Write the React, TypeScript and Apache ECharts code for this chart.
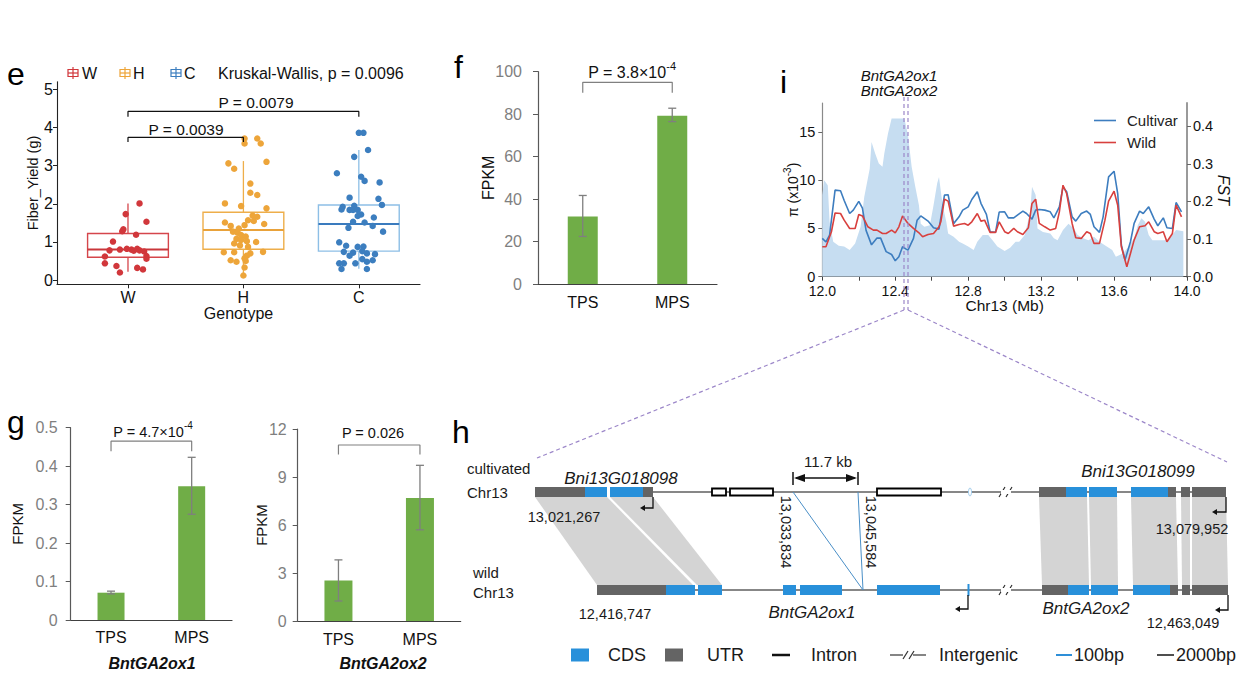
import React, { useEffect, useRef } from "react";
import * as echarts from "echarts";

const FONT = '"Liberation Sans", Arial, Helvetica, sans-serif';

// ---------------- panel e : fiber yield boxplot ----------------
const GENOTYPES = ["W", "H", "C"];
const GENO_COLORS = ["#D1373B", "#EDA53A", "#3C7EBF"];
const BOX_LINE_COLORS = ["#D5464B", "#EEAE4A", "#8DBFE6"];
const BOX_MEDIAN_COLORS = ["#C9363B", "#E9A23A", "#3A7BBE"];
// [x, lower whisker, Q1, median, Q3, upper whisker]
const BOX_STATS = [
  [1, 0.22, 0.6, 0.8, 1.22, 2.01],
  [2, 0.1, 0.81, 1.31, 1.78, 3.12],
  [3, 0.3, 0.76, 1.47, 1.97, 3.41],
];
const W_POINTS = [[1.10,2.01],[0.98,1.73],[1.16,1.53],[0.96,1.33],[0.95,1.28],[1.07,1.19],[0.87,1.01],[0.84,0.78],[0.93,0.80],[0.99,0.82],[1.03,0.80],[1.05,0.77],[1.08,0.82],[1.10,0.78],[1.14,0.75],[1.16,0.63],[1.16,0.56],[0.80,0.62],[0.80,0.44],[0.90,0.37],[1.08,0.32],[1.13,0.28],[0.93,0.20]];
const H_POINTS = [[2.01,3.71],[2.12,3.71],[2.01,3.58],[2.15,3.58],[2.20,3.10],[1.87,3.06],[1.92,2.92],[2.06,2.53],[2.06,2.29],[2.12,2.23],[1.84,2.01],[1.98,1.94],[2.20,1.88],[2.08,1.69],[2.12,1.66],[2.04,1.57],[2.09,1.55],[1.84,1.51],[2.18,1.47],[1.89,1.42],[2.01,1.44],[1.96,1.35],[1.91,1.27],[1.95,1.24],[1.98,1.18],[2.02,1.14],[1.94,1.08],[1.98,1.05],[2.03,1.02],[2.11,1.00],[1.92,0.96],[1.97,0.91],[2.04,0.87],[1.83,0.73],[1.92,0.73],[2.06,0.70],[2.17,0.74],[2.03,0.64],[2.01,0.57],[1.89,0.52],[1.94,0.48],[2.02,0.50],[2.01,0.33],[2.00,0.12]];
const C_POINTS = [[3.00,3.86],[3.04,3.86],[3.08,3.41],[2.96,3.23],[2.81,2.80],[3.02,2.71],[3.05,2.60],[3.18,2.56],[2.92,2.16],[3.17,2.13],[3.20,1.97],[2.86,1.92],[2.96,1.95],[2.85,1.85],[2.92,1.84],[2.95,1.84],[2.99,1.84],[3.02,1.72],[2.99,1.68],[3.13,1.64],[2.95,1.53],[3.05,1.51],[3.12,1.42],[2.91,1.37],[3.21,1.27],[2.83,0.99],[2.89,0.90],[2.99,0.87],[3.04,0.88],[2.87,0.74],[3.03,0.76],[2.95,0.72],[3.07,0.70],[3.14,0.68],[2.92,0.64],[3.03,0.55],[3.12,0.52],[3.07,0.48],[2.83,0.44],[2.87,0.44],[2.97,0.44],[2.85,0.29],[3.07,0.29]];
const E_BRACKET_WH = [[1,3.62],[1,3.74],[2,3.74],[2,3.62]];
const E_BRACKET_WC = [[1,4.28],[1,4.42],[3,4.42],[3,4.28]];
const E_Y_TICKS = [0, 1, 2, 3, 4, 5];

// ---------------- panels f, g : FPKM bars ----------------
const STAGES = ["TPS", "MPS"];
const F_FPKM = [31.8, 79.2];
const F_ERR = [[0, 22.4, 41.7], [1, 76.5, 82.8]];
const F_BRACKET = [[0, 90.1], [0, 95], [1, 95], [1, 90.1]];
const G1_FPKM = [0.071, 0.348];
const G1_ERR = [[0, 0.068, 0.075], [1, 0.275, 0.423]];
const G1_BRACKET = [[0, 0.439], [0, 0.465], [1, 0.465], [1, 0.439]];
const G2_FPKM = [2.53, 7.68];
const G2_ERR = [[0, 1.25, 3.82], [1, 5.7, 9.73]];
const G2_BRACKET = [[0, 10.4], [0, 11.0], [1, 11.0], [1, 10.4]];

// ---------------- panel i : diversity along Chr13 ----------------
const I_X_TICK_LABELS = ["12.0", "12.4", "12.8", "13.2", "13.6", "14.0"];
const PI_TICKS = [0, 5, 10, 15];
const FST_TICKS = [0, 0.1, 0.2, 0.3, 0.4];
const CULTIVAR_PI = [[12.00,3.97],[12.02,3.6],[12.04,4.3],[12.07,8.97],[12.10,8.9],[12.12,7.9],[12.15,6.55],[12.17,6.9],[12.20,7.8],[12.22,7.1],[12.24,4.8],[12.27,3.3],[12.30,4.0],[12.32,4.0],[12.35,2.6],[12.38,2.3],[12.40,1.65],[12.42,2.07],[12.44,3.1],[12.46,2.86],[12.47,2.76],[12.50,3.97],[12.52,5.86],[12.54,6.3],[12.58,5.76],[12.61,5.07],[12.64,4.93],[12.67,8.45],[12.69,8.5],[12.72,5.5],[12.75,6.2],[12.77,6.9],[12.80,7.24],[12.82,8.0],[12.85,8.8],[12.87,7.6],[12.90,6.45],[12.92,4.66],[12.95,4.6],[12.97,6.7],[13.00,6.72],[13.02,6.1],[13.05,6.1],[13.07,6.38],[13.10,6.8],[13.12,6.55],[13.15,5.97],[13.17,6.9],[13.19,6.97],[13.22,6.9],[13.25,6.72],[13.27,6.1],[13.30,7.24],[13.32,9.31],[13.34,8.8],[13.37,6.2],[13.39,5.76],[13.42,6.55],[13.45,6.8],[13.47,6.45],[13.49,5.17],[13.52,4.59],[13.54,6.2],[13.57,10.34],[13.60,10.93],[13.62,8.62],[13.64,3.28],[13.66,1.72],[13.69,3.62],[13.71,5.52],[13.74,6.8],[13.76,6.55],[13.79,7.24],[13.82,5.97],[13.84,5.28],[13.87,6.1],[13.89,5.07],[13.92,5.0],[13.94,7.69],[13.97,6.72]];
const WILD_PI = [[12.00,3.1],[12.02,3.1],[12.05,4.66],[12.07,6.6],[12.10,6.55],[12.12,5.86],[12.15,5.0],[12.18,5.0],[12.20,6.45],[12.22,6.3],[12.25,5.17],[12.28,4.83],[12.30,4.83],[12.33,4.48],[12.35,4.48],[12.38,4.83],[12.40,4.55],[12.42,5.17],[12.44,6.28],[12.47,5.52],[12.50,5.0],[12.53,4.55],[12.55,4.14],[12.58,4.38],[12.61,4.48],[12.64,5.17],[12.65,5.69],[12.67,8.03],[12.69,7.83],[12.72,5.24],[12.75,5.41],[12.78,5.52],[12.80,5.34],[12.82,5.69],[12.85,6.55],[12.87,5.76],[12.89,5.86],[12.92,4.59],[12.95,4.59],[12.97,5.69],[13.00,4.66],[13.02,4.48],[13.05,5.0],[13.07,4.66],[13.10,4.38],[13.13,5.07],[13.15,7.59],[13.17,8.03],[13.19,5.52],[13.22,5.17],[13.25,4.83],[13.28,5.0],[13.30,6.72],[13.32,9.48],[13.34,8.62],[13.37,5.52],[13.39,4.03],[13.42,3.97],[13.45,4.66],[13.47,4.48],[13.49,3.45],[13.52,3.45],[13.55,5.86],[13.57,7.83],[13.60,8.86],[13.62,7.41],[13.64,3.1],[13.67,1.03],[13.69,2.41],[13.71,3.79],[13.74,5.17],[13.77,5.28],[13.79,5.69],[13.82,4.66],[13.84,4.48],[13.87,4.66],[13.89,3.62],[13.92,4.48],[13.94,7.41],[13.97,6.2]];
const FST_VALUES = [[12.00,0.217],[12.01,0.256],[12.03,0.243],[12.04,0.146],[12.06,0.093],[12.09,0.082],[12.12,0.080],[12.15,0.071],[12.18,0.088],[12.21,0.133],[12.23,0.212],[12.26,0.287],[12.27,0.358],[12.29,0.327],[12.31,0.301],[12.33,0.292],[12.34,0.327],[12.36,0.380],[12.38,0.420],[12.45,0.420],[12.47,0.376],[12.49,0.292],[12.51,0.239],[12.53,0.190],[12.54,0.141],[12.56,0.133],[12.59,0.137],[12.61,0.190],[12.63,0.248],[12.64,0.265],[12.66,0.190],[12.68,0.146],[12.69,0.115],[12.72,0.106],[12.75,0.093],[12.77,0.088],[12.80,0.080],[12.83,0.071],[12.85,0.093],[12.88,0.111],[12.91,0.111],[12.94,0.093],[12.96,0.080],[13.00,0.068],[13.03,0.077],[13.06,0.093],[13.08,0.093],[13.11,0.111],[13.14,0.172],[13.15,0.239],[13.17,0.217],[13.18,0.128],[13.21,0.119],[13.25,0.115],[13.27,0.102],[13.29,0.097],[13.32,0.124],[13.35,0.141],[13.38,0.128],[13.40,0.111],[13.43,0.102],[13.46,0.097],[13.49,0.106],[13.52,0.093],[13.56,0.080],[13.59,0.071],[13.61,0.053],[13.65,0.062],[13.68,0.080],[13.71,0.102],[13.73,0.137],[13.75,0.155],[13.77,0.146],[13.79,0.111],[13.81,0.097],[13.85,0.097],[13.89,0.097],[13.92,0.111],[13.94,0.124],[13.98,0.121]];

// ---------------- panel h : gene-structure schematic (layout along tracks) ----------------
const H_CULT_BLOCKS = [["UTR",535,585],["CDS",585,607],["CDS",610,643],["UTR",643,653],["UTR",1039,1066],["CDS",1066,1087],["CDS",1089,1117],["CDS",1131,1168],["UTR",1168,1176],["UTR",1181,1190],["UTR",1192,1226]];
const H_CULT_DELETED = [[712,726],[730,773],[877,941]];
const H_WILD_BLOCKS = [["UTR",597,666],["CDS",666,695],["CDS",698,722],["CDS",783,796],["CDS",800,842],["CDS",877,940],["UTR",1042,1068],["CDS",1068,1089],["CDS",1091,1118],["CDS",1133,1170],["UTR",1170,1178],["UTR",1182,1190],["UTR",1192,1228]];
const H_SYNTENY = [[[535,607],[597,693]],[[610,653],[697,722]],[[1039,1087],[1042,1089]],[[1089,1117],[1091,1118]],[[1131,1176],[1133,1178]],[[1181,1190],[1182,1190]],[[1192,1226],[1192,1228]]];

const CDS_COLOR = "#2890DA";
const UTR_COLOR = "#646464";
const BAR_COLOR = "#70AD47";
const ERR_COLOR = "#7F7F7F";

function buildGraphic() {
  const el: any[] = [];
  const T = (x: number, y: number, text: string, o: any = {}, rotation = 0) =>
    el.push({
      type: "text", x, y, rotation, z: 20, silent: true,
      style: { text, fontFamily: FONT, fontSize: 15, fill: "#1a1a1a", align: "left", verticalAlign: "middle", ...o },
    });
  const L = (x1: number, y1: number, x2: number, y2: number, stroke = "#000", lineWidth = 1.2, extra: any = {}) =>
    el.push({ type: "line", z: 12, silent: true, shape: { x1, y1, x2, y2 }, style: { stroke, lineWidth, ...extra } });
  const sup = (fs: number) => ({
    b: { fontSize: fs, fontFamily: FONT, fill: "#111", lineHeight: fs + 4, verticalAlign: "bottom" },
    s: { fontSize: Math.round(fs * 0.66), fontFamily: FONT, fill: "#111", lineHeight: Math.round(fs * 0.66), verticalAlign: "top" },
  });

  // panel letters
  T(7, 74, "e", { fontSize: 32, fill: "#000" });
  T(454, 67, "f", { fontSize: 32, fill: "#000" });
  T(780, 82, "i", { fontSize: 32, fill: "#000" });
  T(7, 422, "g", { fontSize: 32, fill: "#000" });
  T(452, 432, "h", { fontSize: 32, fill: "#000" });

  // panel e legend
  const iconX = [68, 120, 171];
  const txtX = [82, 133, 184];
  GENOTYPES.forEach((g, i) => {
    const c = GENO_COLORS[i];
    el.push({ type: "rect", z: 12, silent: true, shape: { x: iconX[i], y: 69.5, width: 10, height: 7 }, style: { fill: "#fff", stroke: c, lineWidth: 1.2 } });
    L(iconX[i], 73, iconX[i] + 10, 73, c, 1.2);
    L(iconX[i] + 5, 67, iconX[i] + 5, 79, c, 1.2);
    T(txtX[i], 73, g, { fontSize: 16, fill: "#111" });
  });
  T(218, 73, "Kruskal-Wallis, p = 0.0096", { fontSize: 16, fill: "#111" });
  T(186, 129, "P = 0.0039", { fontSize: 15.5, align: "center", fill: "#111" });
  T(256, 102, "P = 0.0079", { fontSize: 15.5, align: "center", fill: "#111" });

  // panel f / g annotations
  T(632, 70, "{b|P = 3.8×10}{s|-4}", { align: "center", rich: sup(16) });
  T(153, 430, "{b|P = 4.7×10}{s|-4}", { align: "center", rich: sup(14.5) });
  T(373, 433, "P = 0.026", { fontSize: 14.5, align: "center", fill: "#111" });
  T(152, 663, "BntGA2ox1", { fontSize: 16, fontWeight: "bold", fontStyle: "italic", align: "center", fill: "#111" });
  T(383, 663, "BntGA2ox2", { fontSize: 16, fontWeight: "bold", fontStyle: "italic", align: "center", fill: "#111" });

  // panel i gene labels + dashed zoom lines
  T(899, 75, "BntGA2ox1", { fontSize: 15, fontStyle: "italic", align: "center", fill: "#111" });
  T(899, 90, "BntGA2ox2", { fontSize: 15, fontStyle: "italic", align: "center", fill: "#111" });
  const dash = { lineDash: [4, 3] };
  L(904, 97, 904, 310, "#9C87C9", 1.2, dash);
  L(908, 97, 908, 310, "#9C87C9", 1.2, dash);
  L(904, 310, 537, 458, "#9C87C9", 1.2, dash);
  L(908, 310, 1227, 462, "#9C87C9", 1.2, dash);

  // panel h
  const CY = 492, WY = 590, HB = 5;
  H_SYNTENY.forEach(([top, bot]) => {
    el.push({ type: "polygon", z: 5, silent: true, shape: { points: [[top[0], CY + HB], [top[1], CY + HB], [bot[1], WY - HB], [bot[0], WY - HB]] }, style: { fill: "#D4D4D4" } });
  });
  L(653, CY, 1226, CY, "#111", 1.1);
  L(597, WY, 1228, WY, "#111", 1.1);
  // intergenic breaks
  [CY, WY].forEach((y) => {
    el.push({ type: "rect", z: 13, silent: true, shape: { x: 1001, y: y - 2, width: 10, height: 4 }, style: { fill: "#fff" } });
    L(999, y + 5, 1005, y - 5, "#222", 1.1, {});
    L(1006, y + 5, 1012, y - 5, "#222", 1.1, {});
  });
  const block = (kind: string, x1: number, x2: number, y: number) =>
    el.push({ type: "rect", z: 14, silent: true, shape: { x: x1, y: y - HB, width: x2 - x1, height: 2 * HB }, style: { fill: kind === "CDS" ? CDS_COLOR : UTR_COLOR } });
  H_CULT_BLOCKS.forEach(([k, a, b]: any) => block(k, a, b, CY));
  H_WILD_BLOCKS.forEach(([k, a, b]: any) => block(k, a, b, WY));
  H_CULT_DELETED.forEach(([a, b]) =>
    el.push({ type: "rect", z: 14, silent: true, shape: { x: a, y: CY - 3.5, width: b - a, height: 7 }, style: { fill: "#fff", stroke: "#000", lineWidth: 1.8 } })
  );
  el.push({ type: "ellipse", z: 14, silent: true, shape: { cx: 970, cy: CY, rx: 1.5, ry: 4 }, style: { fill: "#fff", stroke: "#9CC9EA", lineWidth: 1 } });
  el.push({ type: "rect", z: 14, silent: true, shape: { x: 967.5, y: WY - 6, width: 2, height: 12 }, style: { fill: CDS_COLOR } });
  // TSS arrows
  const tss = (x: number, y0: number, y1: number, len: number) => {
    el.push({ type: "polyline", z: 14, silent: true, shape: { points: [[x, y0], [x, y1], [x - len, y1]] }, style: { stroke: "#111", lineWidth: 1.3, fill: null } });
    el.push({ type: "polygon", z: 14, silent: true, shape: { points: [[x - len - 4, y1], [x - len + 1, y1 - 3], [x - len + 1, y1 + 3]] }, style: { fill: "#111" } });
  };
  tss(653, CY + HB, 508, 9);
  tss(1226, CY + HB, 512, 10);
  tss(968, WY + HB, 609, 9);
  tss(1228, WY + HB, 610, 9);
  // 11.7 kb span
  L(793, 472, 793, 485, "#111", 1.5);
  L(858, 472, 858, 485, "#111", 1.5);
  L(796, 478, 855, 478, "#111", 1.3);
  el.push({ type: "polygon", z: 14, silent: true, shape: { points: [[794, 478], [805, 474], [805, 482]] }, style: { fill: "#111" } });
  el.push({ type: "polygon", z: 14, silent: true, shape: { points: [[857, 478], [846, 474], [846, 482]] }, style: { fill: "#111" } });
  // 100bp lines
  L(793, CY, 863, WY, "#4A8FC7", 1);
  L(858, CY, 863, WY, "#4A8FC7", 1);

  // texts of panel h
  T(467, 468, "cultivated");
  T(467, 492, "Chr13");
  T(473, 572, "wild");
  T(473, 592, "Chr13");
  T(621, 478, "Bni13G018098", { fontSize: 17, fontStyle: "italic", align: "center" });
  T(1138, 471, "Bni13G018099", { fontSize: 17, fontStyle: "italic", align: "center" });
  T(812, 612, "BntGA2ox1", { fontSize: 17, fontStyle: "italic", align: "center" });
  T(1086, 608, "BntGA2ox2", { fontSize: 17, fontStyle: "italic", align: "center" });
  T(828, 461, "11.7 kb", { align: "center" });
  T(564, 517, "13,021,267", { fontSize: 14.5, align: "center" });
  T(1192, 529, "13,079,952", { fontSize: 14.5, align: "center" });
  T(615, 614, "12,416,747", { fontSize: 14.5, align: "center" });
  T(1183, 623, "12,463,049", { fontSize: 14.5, align: "center" });
  T(786, 532, "13,033,834", { fontSize: 14.5, align: "center" }, -Math.PI / 2);
  T(871, 532, "13,045,584", { fontSize: 14.5, align: "center" }, -Math.PI / 2);

  // legend row of panel h
  const LY = 655;
  el.push({ type: "rect", z: 14, silent: true, shape: { x: 571, y: LY - 6.5, width: 18, height: 13 }, style: { fill: CDS_COLOR } });
  T(608, LY, "CDS", { fontSize: 18 });
  el.push({ type: "rect", z: 14, silent: true, shape: { x: 665, y: LY - 6.5, width: 18, height: 13 }, style: { fill: UTR_COLOR } });
  T(707, LY, "UTR", { fontSize: 18 });
  L(772, LY, 790, LY, "#111", 2.5);
  T(811, LY, "Intron", { fontSize: 18 });
  L(890, LY, 903, LY, "#333", 1.2);
  L(903, LY + 4, 908, LY - 4, "#333", 1.2);
  L(909, LY + 4, 914, LY - 4, "#333", 1.2);
  L(913, LY, 926, LY, "#333", 1.2);
  T(939, LY, "Intergenic", { fontSize: 18 });
  L(1056, LY, 1072, LY, "#2E8FD8", 2);
  T(1074, LY, "100bp", { fontSize: 18 });
  L(1157, LY, 1174, LY, "#222", 1.6);
  T(1176, LY, "2000bp", { fontSize: 18 });
  return el;
}

function errorSeries(data: number[][], xi: number) {
  return {
    type: "custom", xAxisIndex: xi, yAxisIndex: xi, data, silent: true, z: 5,
    encode: { x: 0, y: [1, 2] },
    renderItem: (_p: any, api: any) => {
      const x = api.value(0);
      const a = api.coord([x, api.value(1)]);
      const b = api.coord([x, api.value(2)]);
      const s = { stroke: ERR_COLOR, lineWidth: 1.3 };
      return {
        type: "group",
        children: [
          { type: "line", shape: { x1: a[0], y1: a[1], x2: b[0], y2: b[1] }, style: s },
          { type: "line", shape: { x1: a[0] - 4, y1: a[1], x2: a[0] + 4, y2: a[1] }, style: s },
          { type: "line", shape: { x1: b[0] - 4, y1: b[1], x2: b[0] + 4, y2: b[1] }, style: s },
        ],
      };
    },
  };
}

function bracket(data: number[][], xi: number, yi: number, color: string) {
  return { type: "line", xAxisIndex: xi, yAxisIndex: yi, data, symbol: "none", silent: true, lineStyle: { color, width: 1.2 }, z: 6 };
}

const barX = (gi: number, margin: number) => ({
  type: "category", gridIndex: gi, data: STAGES,
  axisLine: { onZero: false, lineStyle: { color: "#404040", width: 1.2 } },
  axisTick: { show: false },
  axisLabel: { color: "#111", fontSize: 16, fontFamily: FONT, margin },
  splitLine: { show: false },
});
const barY = (gi: number, max: number, interval: number, margin: number, gap: number, fontSize: number, fmt?: any) => ({
  type: "value", gridIndex: gi, min: 0, max, interval,
  name: "FPKM", nameLocation: "middle", nameRotate: 90, nameGap: gap, nameMoveOverlap: false,
  nameTextStyle: { color: "#111", fontSize: fontSize, fontFamily: FONT },
  axisLine: { show: true, onZero: false, lineStyle: { color: "#595959", width: 1.2 } },
  axisTick: { show: true, length: 5, lineStyle: { color: "#595959" } },
  axisLabel: { color: "#7F7F7F", fontSize: 16, fontFamily: FONT, margin, formatter: fmt },
  splitLine: { show: false },
});

function buildOption() {
  const ax = { lineStyle: { color: "#222", width: 1.1 } };
  return {
    animation: false,
    backgroundColor: "#fff",
    textStyle: { fontFamily: FONT },
    grid: [
      { left: 57, top: 81.7, width: 363, height: 202.6, outerBoundsMode: "none" },
      { left: 538, top: 71.7, width: 179, height: 212.3, outerBoundsMode: "none" },
      { left: 70.7, top: 427.7, width: 161.3, height: 192.3, outerBoundsMode: "none" },
      { left: 297.7, top: 429, width: 163, height: 192, outerBoundsMode: "none" },
      { left: 822.3, top: 103, width: 364.7, height: 173.7, outerBoundsMode: "none" },
    ],
    legend: [{
      data: ["Cultivar", "Wild"], left: 1089, top: 108, orient: "vertical", itemGap: 7,
      icon: "rect", itemWidth: 22, itemHeight: 1.6, selectedMode: false,
      textStyle: { fontFamily: FONT, fontSize: 15, color: "#222", padding: [0, 0, 0, 6] },
    }],
    xAxis: [
      {
        type: "value", gridIndex: 0, min: 0.385, max: 3.53,
        name: "Genotype", nameLocation: "middle", nameGap: 21, nameMoveOverlap: false,
        nameTextStyle: { color: "#111", fontSize: 16, fontFamily: FONT },
        axisLine: { onZero: false, ...ax },
        axisTick: { show: true, length: 4, customValues: [1, 2, 3], lineStyle: { color: "#222" } },
        axisLabel: { customValues: [1, 2, 3], formatter: (v: number) => GENOTYPES[Math.round(v) - 1], color: "#111", fontSize: 16, margin: 5 },
        splitLine: { show: false },
      },
      barX(1, 10),
      barX(2, 9),
      barX(3, 10),
      {
        type: "value", gridIndex: 4, min: 12, max: 14, interval: 0.2,
        name: "Chr13 (Mb)", nameLocation: "middle", nameGap: 21, nameMoveOverlap: false,
        nameTextStyle: { color: "#111", fontSize: 15.5, lineHeight: 15.5, fontFamily: FONT },
        axisLine: { onZero: false, lineStyle: { color: "#444", width: 1.2 } },
        axisTick: { show: true, length: 4, lineStyle: { color: "#444" } },
        axisLabel: {
          color: "#111", fontSize: 14, lineHeight: 14, margin: 7,
          formatter: (v: number) => {
            const k = Math.round((v - 12) * 10);
            return k % 4 === 0 ? I_X_TICK_LABELS[k / 4] : "";
          },
        },
        splitLine: { show: false },
      },
    ],
    yAxis: [
      {
        type: "value", gridIndex: 0, min: -0.11, max: 5.2,
        name: "Fiber_Yield (g)", nameLocation: "middle", nameRotate: 90, nameGap: 17, nameMoveOverlap: false,
        nameTextStyle: { color: "#111", fontSize: 14.5, fontFamily: FONT },
        axisLine: { show: true, onZero: false, ...ax },
        axisTick: { show: true, length: 4, customValues: E_Y_TICKS, lineStyle: { color: "#222" } },
        axisLabel: { customValues: E_Y_TICKS, color: "#111", fontSize: 16, margin: 4 },
        splitLine: { show: false },
      },
      barY(1, 100, 20, 16, 42, 16),
      barY(2, 0.5, 0.1, 13, 45.5, 15, (v: number) => (v === 0 ? "0" : v.toFixed(1))),
      barY(3, 12, 3, 11, 29, 15),
      {
        type: "value", gridIndex: 4, min: 0, max: 18,
        name: "{a|π (x10}{s|-3}{a|)}", nameLocation: "middle", nameRotate: 90, nameGap: 22, nameMoveOverlap: false,
        nameTextStyle: {
          rich: {
            a: { fontSize: 14, color: "#111", fontFamily: FONT, lineHeight: 18, verticalAlign: "bottom" },
            s: { fontSize: 10, color: "#111", fontFamily: FONT, lineHeight: 10, verticalAlign: "top" },
          },
        },
        axisLine: { show: true, onZero: false, lineStyle: { color: "#8a8a8a", width: 1.2 } },
        axisTick: { show: true, length: 4, customValues: PI_TICKS, lineStyle: { color: "#666" } },
        axisLabel: { customValues: PI_TICKS, color: "#111", fontSize: 14.5, lineHeight: 13.5, margin: 7 },
        splitLine: { show: false },
      },
      {
        type: "value", gridIndex: 4, position: "right", min: 0, max: 0.4615,
        name: "FST", nameLocation: "middle", nameRotate: -90, nameGap: 28, nameMoveOverlap: false,
        nameTextStyle: { color: "#111", fontSize: 16, fontStyle: "italic", fontFamily: FONT },
        axisLine: { show: true, onZero: false, lineStyle: { color: "#9a9a9a", width: 2 } },
        axisTick: { show: true, length: 4, customValues: FST_TICKS, lineStyle: { color: "#666" } },
        axisLabel: { customValues: FST_TICKS, formatter: (v: number) => v.toFixed(1), color: "#111", fontSize: 14.5, margin: 6 },
        splitLine: { show: false },
      },
    ],
    series: [
      {
        type: "custom", xAxisIndex: 0, yAxisIndex: 0, data: BOX_STATS, silent: true, z: 2,
        encode: { x: 0, y: [1, 2, 3, 4, 5] },
        renderItem: (p: any, api: any) => {
          const i = p.dataIndex;
          const x = api.value(0);
          const hw = 0.35;
          const lo = api.coord([x, api.value(1)]);
          const q1c = api.coord([x, api.value(2)]);
          const q3c = api.coord([x, api.value(4)]);
          const hi = api.coord([x, api.value(5)]);
          const bl = api.coord([x - hw, api.value(2)]);
          const tr = api.coord([x + hw, api.value(4)]);
          const ml = api.coord([x - hw, api.value(3)]);
          const mr = api.coord([x + hw, api.value(3)]);
          const lc = BOX_LINE_COLORS[i];
          return {
            type: "group",
            children: [
              { type: "line", shape: { x1: hi[0], y1: hi[1], x2: q3c[0], y2: q3c[1] }, style: { stroke: lc, lineWidth: 1.3 } },
              { type: "line", shape: { x1: lo[0], y1: lo[1], x2: q1c[0], y2: q1c[1] }, style: { stroke: lc, lineWidth: 1.3 } },
              { type: "rect", shape: { x: bl[0], y: tr[1], width: tr[0] - bl[0], height: bl[1] - tr[1] }, style: { fill: "#fff", stroke: lc, lineWidth: 1.4 } },
              { type: "line", shape: { x1: ml[0], y1: ml[1], x2: mr[0], y2: mr[1] }, style: { stroke: BOX_MEDIAN_COLORS[i], lineWidth: 2 } },
            ],
          };
        },
      },
      ...[W_POINTS, H_POINTS, C_POINTS].map((d, i) => ({
        type: "scatter", name: GENOTYPES[i], xAxisIndex: 0, yAxisIndex: 0, data: d,
        symbolSize: 6.5, itemStyle: { color: GENO_COLORS[i], opacity: 1 }, z: 3, silent: true,
      })),
      bracket(E_BRACKET_WH, 0, 0, "#111"),
      bracket(E_BRACKET_WC, 0, 0, "#111"),

      { type: "bar", xAxisIndex: 1, yAxisIndex: 1, data: F_FPKM, barWidth: 30, itemStyle: { color: BAR_COLOR }, silent: true },
      errorSeries(F_ERR, 1),
      bracket(F_BRACKET, 1, 1, "#808080"),
      { type: "bar", xAxisIndex: 2, yAxisIndex: 2, data: G1_FPKM, barWidth: 27, itemStyle: { color: BAR_COLOR }, silent: true },
      errorSeries(G1_ERR, 2),
      bracket(G1_BRACKET, 2, 2, "#808080"),
      { type: "bar", xAxisIndex: 3, yAxisIndex: 3, data: G2_FPKM, barWidth: 28, itemStyle: { color: BAR_COLOR }, silent: true },
      errorSeries(G2_ERR, 3),
      bracket(G2_BRACKET, 3, 3, "#808080"),

      {
        type: "line", name: "FST", xAxisIndex: 4, yAxisIndex: 5, data: FST_VALUES, symbol: "none", silent: true,
        lineStyle: { width: 0, opacity: 0 }, areaStyle: { color: "#C6DDF1", opacity: 1 }, z: 1,
      },
      {
        type: "line", name: "Cultivar", xAxisIndex: 4, yAxisIndex: 4, data: CULTIVAR_PI, symbol: "none", silent: true,
        color: "#3D7DBF", itemStyle: { color: "#3D7DBF" }, lineStyle: { width: 1.6, color: "#3D7DBF" }, z: 3,
      },
      {
        type: "line", name: "Wild", xAxisIndex: 4, yAxisIndex: 4, data: WILD_PI, symbol: "none", silent: true,
        color: "#D8403E", itemStyle: { color: "#D8403E" }, lineStyle: { width: 1.6, color: "#D8403E" }, z: 4,
      },
    ],
    graphic: buildGraphic(),
  };
}

export default function App() {
  const ref = useRef<HTMLDivElement>(null);
  useEffect(() => {
    if (!ref.current) return;
    const chart = echarts.init(ref.current, null, { renderer: "svg" });
    chart.setOption(buildOption() as any);
    return () => chart.dispose();
  }, []);
  return (
    <div
      ref={ref}
      style={{ position: "fixed", left: 0, top: 0, width: 1248, height: 700, background: "#fff" }}
    />
  );
}
